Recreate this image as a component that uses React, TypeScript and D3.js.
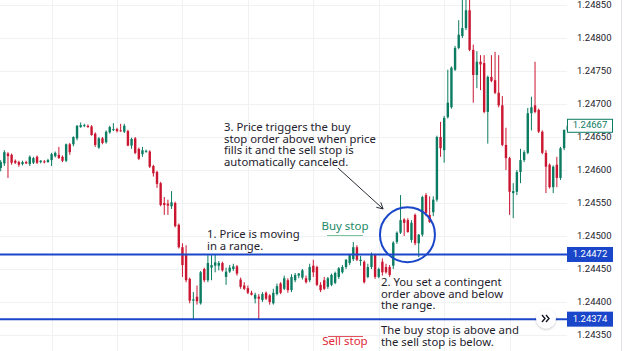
import React from 'react';
import * as d3 from 'd3';

// [open, high, low, close]
type Candle = [number, number, number, number];

const earlyDrift: Candle[] = [
  [1.24603, 1.24615, 1.24598, 1.24612], [1.2461, 1.2463, 1.24606, 1.24627], [1.24625, 1.24627, 1.24588, 1.24621],
  [1.24623, 1.24625, 1.24608, 1.24611], [1.24614, 1.24616, 1.24609, 1.24611], [1.24612, 1.24614, 1.24605, 1.24608],
  [1.24609, 1.24614, 1.24607, 1.24612], [1.24612, 1.24614, 1.24609, 1.2461], [1.24609, 1.24622, 1.24606, 1.2462],
  [1.24611, 1.2462, 1.24609, 1.24618], [1.2462, 1.24622, 1.24609, 1.24611], [1.24612, 1.24615, 1.2461, 1.24614],
  [1.24613, 1.24615, 1.2461, 1.24612], [1.24612, 1.24617, 1.24611, 1.24615], [1.24615, 1.24626, 1.24606, 1.24624],
  [1.24621, 1.24628, 1.24619, 1.24626], [1.24623, 1.24635, 1.24617, 1.24618], [1.2462, 1.24622, 1.24612, 1.24614],
  [1.24614, 1.2464, 1.24612, 1.24639], [1.24639, 1.24641, 1.24623, 1.24627], [1.24639, 1.24651, 1.24636, 1.2465],
  [1.24648, 1.24668, 1.24645, 1.24667], [1.24665, 1.24672, 1.24664, 1.24668], [1.24667, 1.2467, 1.24665, 1.24668],
  [1.24667, 1.24669, 1.24664, 1.24665], [1.24666, 1.24668, 1.24652, 1.24653], [1.24655, 1.24657, 1.24635, 1.24638],
  [1.24634, 1.2465, 1.24632, 1.24648], [1.24648, 1.2465, 1.24639, 1.24641], [1.24642, 1.2466, 1.2464, 1.24658],
  [1.24657, 1.24667, 1.24655, 1.24665], [1.24661, 1.24671, 1.24659, 1.24662], [1.24662, 1.24664, 1.24657, 1.24659],
  [1.2466, 1.2467, 1.24658, 1.24659], [1.24658, 1.2467, 1.24656, 1.24667], [1.24659, 1.24661, 1.24636, 1.24637],
  [1.24637, 1.24649, 1.24632, 1.24647], [1.24648, 1.2465, 1.24624, 1.24626], [1.24632, 1.24634, 1.24615, 1.24617],
  [1.24624, 1.24635, 1.2462, 1.2463], [1.24628, 1.24631, 1.24626, 1.24629], [1.24628, 1.2463, 1.24603, 1.24605],
  [1.24606, 1.24608, 1.2459, 1.24595], [1.24597, 1.24599, 1.24573, 1.24579],
];

const slide: Candle[] = [
  [1.2458, 1.24582, 1.24545, 1.24547], [1.2455, 1.24559, 1.24532, 1.24547], [1.24549, 1.24555, 1.24532, 1.24546],
  [1.24545, 1.24568, 1.24541, 1.24551], [1.2455, 1.24552, 1.24513, 1.24515], [1.24517, 1.24519, 1.24481, 1.24483],
  [1.24483, 1.24489, 1.24438, 1.24456], [1.24471, 1.24486, 1.2443, 1.24433], [1.24435, 1.24437, 1.24398, 1.24402],
  [1.24402, 1.24415, 1.24374, 1.24404], [1.24408, 1.24425, 1.24396, 1.24401], [1.24398, 1.24447, 1.24396, 1.24445],
  [1.2445, 1.24452, 1.2443, 1.24433], [1.24433, 1.24471, 1.2443, 1.24459],
];

const rangeBound: Candle[] = [
  [1.24452, 1.24471, 1.24433, 1.24456], [1.24455, 1.24472, 1.24445, 1.2446], [1.24455, 1.24462, 1.24448, 1.24459],
  [1.24459, 1.24461, 1.24446, 1.24448], [1.24438, 1.24452, 1.24426, 1.24446], [1.24446, 1.24456, 1.24444, 1.24452],
  [1.2445, 1.24458, 1.24447, 1.24454], [1.24454, 1.24456, 1.2444, 1.24443], [1.24434, 1.24437, 1.2442, 1.24423],
  [1.24425, 1.2443, 1.24418, 1.2442], [1.24421, 1.24425, 1.24412, 1.24414], [1.24414, 1.24417, 1.2441, 1.24411],
  [1.24405, 1.24414, 1.24398, 1.24411], [1.24408, 1.24412, 1.24374, 1.24405], [1.24403, 1.24415, 1.244, 1.24412],
  [1.24414, 1.24416, 1.24403, 1.24405], [1.2441, 1.24412, 1.24396, 1.244], [1.24398, 1.2442, 1.24396, 1.24414],
  [1.24412, 1.24428, 1.2441, 1.24424], [1.24428, 1.2443, 1.24412, 1.24414], [1.2442, 1.2444, 1.24418, 1.24436],
  [1.24433, 1.24436, 1.24414, 1.24418], [1.24418, 1.24442, 1.24415, 1.24438], [1.24433, 1.24444, 1.2443, 1.24441],
  [1.2444, 1.24444, 1.24436, 1.24443], [1.24437, 1.2445, 1.24434, 1.24448], [1.24436, 1.2444, 1.24428, 1.2443],
  [1.24433, 1.24458, 1.2443, 1.24453], [1.24455, 1.24464, 1.24438, 1.24445], [1.24453, 1.24455, 1.24424, 1.24426],
  [1.24426, 1.2443, 1.24415, 1.24418], [1.24433, 1.24438, 1.24418, 1.2442], [1.24423, 1.24438, 1.2442, 1.24436],
  [1.24426, 1.24443, 1.24424, 1.24441], [1.24429, 1.24446, 1.24427, 1.24444], [1.24438, 1.24453, 1.24435, 1.24451],
  [1.24445, 1.24456, 1.24443, 1.24453], [1.24453, 1.24465, 1.2445, 1.24464], [1.24459, 1.24473, 1.24456, 1.24471],
  [1.24465, 1.24491, 1.24462, 1.24483], [1.24483, 1.24486, 1.24462, 1.24464], [1.24462, 1.2447, 1.24455, 1.24464],
  [1.24461, 1.24463, 1.24428, 1.2443], [1.24438, 1.24458, 1.24436, 1.24453], [1.24453, 1.24475, 1.2445, 1.24471],
  [1.24471, 1.24473, 1.24435, 1.24438], [1.24438, 1.24452, 1.24436, 1.2445], [1.24461, 1.24466, 1.2444, 1.24445],
  [1.24453, 1.24458, 1.24443, 1.24445], [1.24453, 1.24456, 1.24438, 1.24441],
];

const breakout: Candle[] = [
  [1.24455, 1.24492, 1.2445, 1.2449], [1.24491, 1.24507, 1.24488, 1.24505], [1.24505, 1.24562, 1.24503, 1.24524],
  [1.24525, 1.24527, 1.245, 1.2452], [1.24524, 1.24527, 1.24505, 1.24506], [1.24494, 1.24524, 1.2449, 1.2452],
  [1.24532, 1.24534, 1.24486, 1.24489], [1.24489, 1.24503, 1.24468, 1.24502], [1.24502, 1.24561, 1.24499, 1.24559],
  [1.24562, 1.24565, 1.2453, 1.24535], [1.24532, 1.2456, 1.2452, 1.24521], [1.24536, 1.2456, 1.2453, 1.24555],
  [1.24555, 1.24652, 1.24552, 1.2465], [1.2465, 1.24673, 1.2462, 1.24633], [1.2463, 1.24682, 1.24611, 1.24679],
  [1.2468, 1.24752, 1.24678, 1.24702], [1.24695, 1.24757, 1.24693, 1.24755], [1.24752, 1.24788, 1.2475, 1.24785],
  [1.24785, 1.24827, 1.24783, 1.24805], [1.24803, 1.2486, 1.248, 1.24815], [1.24815, 1.24865, 1.24812, 1.24842],
  [1.24842, 1.24862, 1.2478, 1.24782], [1.24782, 1.2479, 1.24702, 1.24744], [1.24744, 1.2478, 1.24724, 1.24764],
];

const retrace: Candle[] = [
  [1.24764, 1.24774, 1.24721, 1.2476], [1.24762, 1.24774, 1.24686, 1.24688], [1.24688, 1.24743, 1.2464, 1.24741],
  [1.24741, 1.24774, 1.24733, 1.24735], [1.24736, 1.24779, 1.24715, 1.24717], [1.24717, 1.24774, 1.24695, 1.24698],
  [1.24698, 1.24712, 1.24636, 1.24638], [1.24638, 1.24664, 1.246, 1.24618], [1.24618, 1.2462, 1.24532, 1.24567],
  [1.24565, 1.2458, 1.24527, 1.24568], [1.24567, 1.246, 1.24562, 1.24597], [1.24597, 1.24632, 1.2458, 1.24615],
  [1.24615, 1.2463, 1.24612, 1.24627], [1.24626, 1.24694, 1.24624, 1.24686], [1.24686, 1.24711, 1.2466, 1.24695],
  [1.24698, 1.24764, 1.24686, 1.24688], [1.24691, 1.24693, 1.24656, 1.24658], [1.24658, 1.2466, 1.24624, 1.24626],
  [1.24626, 1.2463, 1.24565, 1.24605], [1.24608, 1.2461, 1.24572, 1.24574], [1.24574, 1.24607, 1.24565, 1.24605],
  [1.24608, 1.2462, 1.24574, 1.24588], [1.24588, 1.24635, 1.24585, 1.24633], [1.24633, 1.2465, 1.2463, 1.24661],
  [1.2466, 1.24691, 1.24635, 1.24667],
];

const candles: Candle[] = [...earlyDrift, ...slide, ...rangeBound, ...breakout, ...retrace];

const priceTicks = [1.2435, 1.244, 1.2445, 1.245, 1.2455, 1.246, 1.2465, 1.247, 1.2475, 1.248, 1.2485];
const timeGridStart = 14;
const timeGridEvery = 18;

const buyStop = 1.24472;
const sellStop = 1.24374;
const lastPrice = 1.24667;

// annotation anchors in (candle index, price)
const circleAt = { i: 111.9, p: 1.24502 };
const arrowFrom = { i: 92.8, p: 1.24603 };
const arrowTo = { i: 105.2, p: 1.24541 };

const note1 = ['1. Price is moving', 'in a range.'];
const note2 = ['2. You set a contingent', 'order above and below', 'the range.'];
const note3 = ['3. Price triggers the buy', 'stop order above when price', 'fills it and the sell stop is', 'automatically canceled.'];
const note4 = ['The buy stop is above and', 'the sell stop is below.'];

const W = 624;
const H = 351;
const plotRight = 567;
const UP = '#0b7c62';
const DOWN = '#cb1631';
const BLUE = '#1a46c9';
const INK = '#1e222d';
const FONT = "'Noto Sans', sans-serif";

const fmt = d3.format('.5f');

const Lines = ({ x, y, lines, step = 11.7 }: { x: number; y: number; lines: string[]; step?: number }) => (
  <text x={x} y={y} fontFamily={FONT} fontSize={11.3} fill={INK}>
    {lines.map((l, k) => (
      <tspan key={k} x={x} y={y + k * step} dominantBaseline="middle">{l}</tspan>
    ))}
  </text>
);

export default function App() {
  const x = d3.scaleLinear().domain([0, candles.length - 1]).range([0.7, 0.7 + 3.635 * (candles.length - 1)]);
  const y = d3.scaleLinear().domain([1.2435, 1.2485]).range([335, 5]);
  const bw = 2.4;

  const gridIdx = d3.range(timeGridStart, candles.length, timeGridEvery);
  const cx = x(circleAt.i);
  const cy = y(circleAt.p);
  const ax0 = x(arrowFrom.i), ay0 = y(arrowFrom.p);
  const ax1 = x(arrowTo.i), ay1 = y(arrowTo.p);
  const ang = Math.atan2(ay1 - ay0, ax1 - ax0);
  const head = 7;
  const hp = (d: number) => [ax1 - head * Math.cos(ang + d), ay1 - head * Math.sin(ang + d)];
  const [h1x, h1y] = hp(0.5);
  const [h2x, h2y] = hp(-0.5);

  return (
    <svg width={W} height={H} style={{ position: 'absolute', left: 0, top: 0, background: '#fff' }}>
      <defs>
        <clipPath id="plot">
          <rect x={0} y={0} width={plotRight} height={H} />
        </clipPath>
        <filter id="sh" x="-50%" y="-50%" width="200%" height="200%">
          <feDropShadow dx="0" dy="1" stdDeviation="1.2" floodColor="#000" floodOpacity="0.25" />
        </filter>
      </defs>

      {/* grid */}
      {priceTicks.map((t) => (
        <line key={t} x1={0} x2={plotRight} y1={Math.round(y(t)) + 0.5} y2={Math.round(y(t)) + 0.5} stroke="#f0f1f3" />
      ))}
      {gridIdx.map((i) => (
        <line key={i} x1={Math.round(x(i)) + 0.5} x2={Math.round(x(i)) + 0.5} y1={0} y2={H} stroke="#f0f1f3" />
      ))}

      {/* candles */}
      <g clipPath="url(#plot)">
        {candles.map(([o, h, l, c], i) => {
          const col = c >= o ? UP : DOWN;
          const top = y(Math.max(o, c));
          const bot = y(Math.min(o, c));
          return (
            <g key={i}>
              <line x1={x(i)} x2={x(i)} y1={y(h)} y2={y(l)} stroke={col} strokeWidth={1} />
              <rect x={x(i) - bw / 2} y={top} width={bw} height={Math.max(1, bot - top)} fill={col} />
            </g>
          );
        })}
      </g>

      {/* stop lines */}
      {[buyStop, sellStop].map((p) => (
        <line key={p} x1={0} x2={plotRight} y1={y(p)} y2={y(p)} stroke={BLUE} strokeWidth={2} />
      ))}

      {/* price axis */}
      {priceTicks.map((t) => (
        <text key={t} x={577} y={y(t)} dominantBaseline="middle" fontFamily="Roboto, sans-serif" fontSize={9.5} fill={INK}>
          {fmt(t)}
        </text>
      ))}
      {[buyStop, sellStop].map((p) => (
        <g key={p}>
          <rect x={567} y={y(p) - 7.5} width={46} height={15} fill={BLUE} />
          <text x={590} y={y(p)} textAnchor="middle" dominantBaseline="middle" fontFamily="Roboto, sans-serif" fontSize={9.5} fill="#fff">
            {fmt(p)}
          </text>
        </g>
      ))}
      <rect x={567.5} y={y(lastPrice) - 6.5} width={45} height={13} fill="#fff" stroke={UP} />
      <text x={590} y={y(lastPrice)} textAnchor="middle" dominantBaseline="middle" fontFamily="Roboto, sans-serif" fontSize={9.5} fill={UP}>
        {fmt(lastPrice)}
      </text>
      <line x1={621.5} x2={621.5} y1={0} y2={H} stroke="#e0e3eb" />

      {/* annotations */}
      <ellipse cx={cx} cy={cy} rx={27.5} ry={27.5} fill="none" stroke={BLUE} strokeWidth={2} />
      <line x1={ax0} y1={ay0} x2={ax1} y2={ay1} stroke="#2a2e39" strokeWidth={1} />
      <polyline points={`${h1x},${h1y} ${ax1},${ay1} ${h2x},${h2y}`} fill="none" stroke="#2a2e39" strokeWidth={1} />

      <Lines x={224} y={128} lines={note3} />
      <Lines x={207} y={235} lines={note1} />
      <Lines x={381} y={283} lines={note2} />
      <Lines x={381} y={331} lines={note4} />

      <text x={345} y={227} textAnchor="middle" dominantBaseline="middle" fontFamily={FONT} fontSize={11.5} fill="#1b8a66">Buy stop</text>
      <line x1={327} x2={363} y1={235.5} y2={235.5} stroke="#7cc49a" strokeWidth={1.2} />
      <line x1={328} x2={363} y1={336.5} y2={336.5} stroke="#e3505e" strokeWidth={1.2} />
      <text x={345} y={342} textAnchor="middle" dominantBaseline="middle" fontFamily={FONT} fontSize={11.5} fill="#e0283a">Sell stop</text>

      {/* scroll-to-realtime button */}
      <g filter="url(#sh)">
        <circle cx={546} cy={318.5} r={10} fill="#fff" />
      </g>
      <path d="M542 315 l3 3.5 l-3 3.5 M546 315 l3 3.5 l-3 3.5" fill="none" stroke="#131722" strokeWidth={1.4} />
    </svg>
  );
}
